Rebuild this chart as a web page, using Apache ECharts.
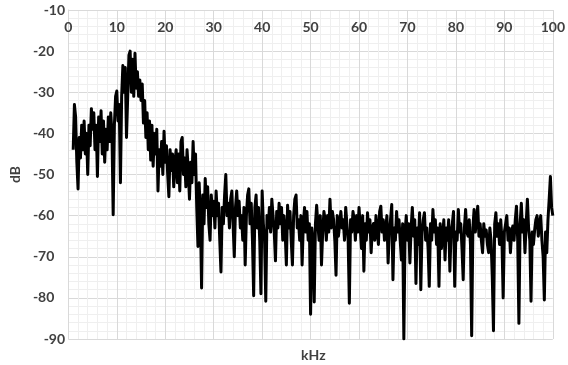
<!DOCTYPE html>
<html>
<head>
<meta charset="utf-8">
<script src="https://cdn.jsdelivr.net/npm/echarts@6/dist/echarts.min.js"></script>
<style>
html,body{margin:0;padding:0;background:#fff;}
#chart{width:568px;height:365px;}
</style>
</head>
<body>
<div id="chart"></div>
<script>
// Frequency sampling: first frequency (kHz) and spacing (kHz)
const freqStart = 1.0;
const freqStep = 0.25;

// Level in dB, one row per ~5 kHz
const levelsDb = [
  -44, -33, -36, -47, -53.5, -41, -46, -38, -44, -37, -45, -40, -50, -38, -43, -34,
  -39, -35, -44, -38, -50.5, -36, -42, -34.5, -45, -37, -47, -39, -44, -36, -42, -35, -40, -59.8, -38, -31,
  -29.7, -37, -33, -52, -31, -23.5, -30, -24, -41, -31, -21, -20, -30, -22, -31, -20.5, -29, -25, -31, -27,
  -32, -28, -37.5, -32, -41, -35, -44, -37, -46.5, -38, -48, -40, -45, -39, -54, -44, -48, -42, -50, -39.5,
  -47, -43, -50, -55.4, -44, -49, -45, -53, -47, -44, -52, -45, -54, -42, -41, -50, -46, -53, -44, -49,
  -56, -47, -52, -42, -50, -45, -58, -67.5, -52, -60, -77.6, -55, -62, -51, -58, -53, -62, -66, -55, -60,
  -56.5, -63, -54, -60, -57, -66, -73.7, -58, -62, -55, -50, -60, -57, -63, -56, -54, -62, -70, -58, -54,
  -60, -56.5, -63, -60, -66, -58, -72, -60, -55, -53.5, -62, -57, -66, -79.5, -58, -55, -63, -58, -66, -79,
  -54, -62, -66, -80.8, -60, -63, -58, -64, -56, -60, -64, -71, -59, -63, -57, -62, -58, -66, -60, -64,
  -72, -57.5, -63, -59, -66, -72, -60, -56, -55, -63, -61, -66, -60, -72, -62, -58, -64, -59, -66, -62,
  -84, -63, -66, -81, -62, -57.5, -62, -66, -60, -72, -64, -59, -61, -66, -60, -64, -56, -63, -59, -61,
  -66, -74.5, -60, -65, -65, -59, -63, -61, -66, -58, -62, -66, -81.3, -61, -64, -59, -61, -66, -60, -64,
  -58, -63, -68, -60, -73.5, -62, -66, -59.3, -64, -61, -69, -63, -61.9, -66, -60, -63.5, -67, -59, -57.7, -64,
  -61, -66, -63.5, -60, -71.5, -64, -61, -57.3, -75.6, -63, -66, -59, -64, -61, -66, -70.8, -62, -90, -64, -60,
  -66, -62, -71.5, -63, -58, -65, -61, -76.5, -63, -67, -59.3, -78, -64, -61, -59.3, -66, -63, -68, -77.2, -62,
  -66, -58.5, -64, -61, -67, -63, -77.2, -62, -68, -65, -61, -70.8, -63, -66, -61, -73.5, -64, -62, -59, -77.2,
  -64, -66, -58.5, -64, -62, -68, -75.6, -63, -58.5, -64, -65, -61, -67, -89.2, -63, -58.5, -64, -61, -57.7, -65,
  -62, -66, -69, -62, -65, -63.5, -67, -69, -63, -66, -74.8, -88, -62, -59.3, -65, -62, -67, -61, -66, -80,
  -64, -62, -60, -66, -63, -69, -64, -62.5, -66, -61, -57.7, -66, -86.2, -62, -57, -64, -61, -69, -62, -56,
  -63, -66, -80.8, -64, -67, -63.5, -61, -60, -65, -62, -60, -66, -70, -80.5, -64, -69, -61, -56, -50.5, -58,
  -60
];

// Axis ticks
const xTicks = [0, 10, 20, 30, 40, 50, 60, 70, 80, 90, 100];
const yTicks = [-90, -80, -70, -60, -50, -40, -30, -20, -10];
const xTitle = 'kHz';
const yTitle = 'dB';

const points = levelsDb.map((v, i) => [+(freqStart + i * freqStep).toFixed(2), v]);

const chart = echarts.init(document.getElementById('chart'), null, {renderer: 'canvas'});
const labelFont = {color: '#404040', fontFamily: 'Lato', fontWeight: 'bold', fontSize: 14};
chart.setOption({
  animation: false,
  backgroundColor: '#ffffff',
  grid: {left: 62, right: 10, top: 10, bottom: 26, containLabel: false},
  title: {
    text: xTitle,
    left: 296, top: 343,
    textStyle: {color: '#404040', fontFamily: 'Lato', fontWeight: 'bold', fontSize: 14}
  },
  xAxis: {
    type: 'value',
    position: 'top',
    min: xTicks[0], max: xTicks[xTicks.length - 1], interval: 10,
    axisLine: {show: true, lineStyle: {color: '#d9d9d9', width: 1}},
    axisTick: {show: false},
    axisLabel: Object.assign({inside: true, margin: 10, alignMinLabel: 'center', alignMaxLabel: 'center'}, labelFont),
    splitLine: {show: true, lineStyle: {color: '#d9d9d9', width: 1}},
    minorTick: {show: false, splitNumber: 5},
    minorSplitLine: {show: true, lineStyle: {color: '#efefef', width: 1}}
  },
  yAxis: {
    type: 'value',
    min: yTicks[0], max: yTicks[yTicks.length - 1], interval: 10,
    name: yTitle,
    nameLocation: 'middle',
    nameGap: 44,
    nameRotate: 90,
    nameTextStyle: {color: '#404040', fontFamily: 'Lato', fontWeight: 'bold', fontSize: 14},
    axisLine: {show: true, lineStyle: {color: '#d9d9d9', width: 1}},
    axisTick: {show: false},
    axisLabel: Object.assign({margin: 14, alignMinLabel: 'center', alignMaxLabel: 'center'}, labelFont),
    splitLine: {show: true, lineStyle: {color: '#d9d9d9', width: 1}},
    minorTick: {show: false, splitNumber: 5},
    minorSplitLine: {show: true, lineStyle: {color: '#efefef', width: 1}}
  },
  series: [{
    type: 'line',
    data: points,
    showSymbol: false,
    symbol: 'none',
    lineStyle: {color: '#000000', width: 3, join: 'round'},
    clip: true
  }]
});
</script>
</body>
</html>
